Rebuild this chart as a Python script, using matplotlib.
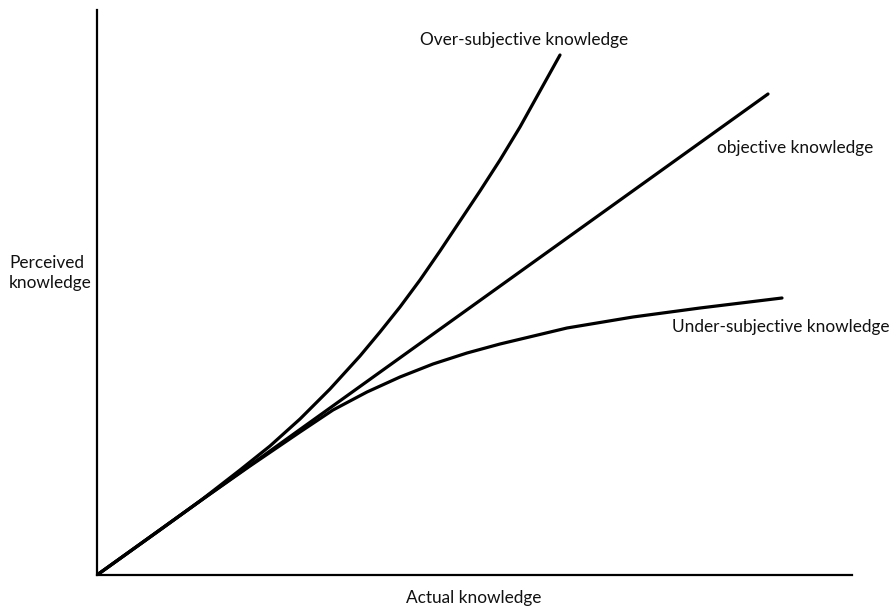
import matplotlib
matplotlib.use("Agg")
import matplotlib.pyplot as plt

W, H = 894, 606

# Curves, in chart units (actual knowledge on x, perceived knowledge on y)
objective_x = [0, 671]
objective_y = [0, 481]

over_x = [0, 63, 103, 143, 173, 203, 233, 263, 283, 303, 323, 343, 363, 383, 403, 423, 443, 463]
over_y = [0, 45, 74, 105, 129, 156, 186, 219, 243, 268, 295, 324, 354, 384, 415, 448, 484, 520]

under_x = [0, 103, 153, 203, 236, 270, 303, 336, 370, 403, 470, 536, 603, 685]
under_y = [0, 74, 109, 143, 165, 183, 198, 211, 222, 231, 247, 258, 267, 277]

labels = {
    "over": "Over-subjective knowledge",
    "objective": "objective knowledge",
    "under": "Under-subjective knowledge",
    "xlabel": "Actual knowledge",
    "ylabel": "Perceived\nknowledge",
}

plt.rcParams['font.family'] = ['Lato', 'DejaVu Sans']

fig = plt.figure(figsize=(W / 100, H / 100), dpi=100)
ax = fig.add_axes([97 / W, (H - 575) / H, 755 / W, 565 / H])
ax.set_xlim(0, 755)
ax.set_ylim(0, 565)

lw = 2.3
for xs, ys in [(objective_x, objective_y), (over_x, over_y), (under_x, under_y)]:
    ax.plot(xs, ys, color='black', lw=lw, solid_capstyle='round', solid_joinstyle='round')

for s in ['top', 'right']:
    ax.spines[s].set_visible(False)
for s in ['left', 'bottom']:
    ax.spines[s].set_linewidth(1.6)
    ax.spines[s].set_color('black')
ax.set_xticks([])
ax.set_yticks([])

fs = 12.4
def ftext(x, y, s, **kw):
    fig.text(x / W, 1 - y / H, s, fontsize=fs, color='#111111', **kw)

ftext(524, 40, labels["over"], ha='center', va='center')
ftext(717, 148, labels["objective"], ha='left', va='center')
ftext(672, 327, labels["under"], ha='left', va='center')
ftext(474, 598, labels["xlabel"], ha='center', va='center')
ftext(9, 273, labels["ylabel"], ha='left', va='center', linespacing=1.3)

fig.savefig("out.png", dpi=100)
